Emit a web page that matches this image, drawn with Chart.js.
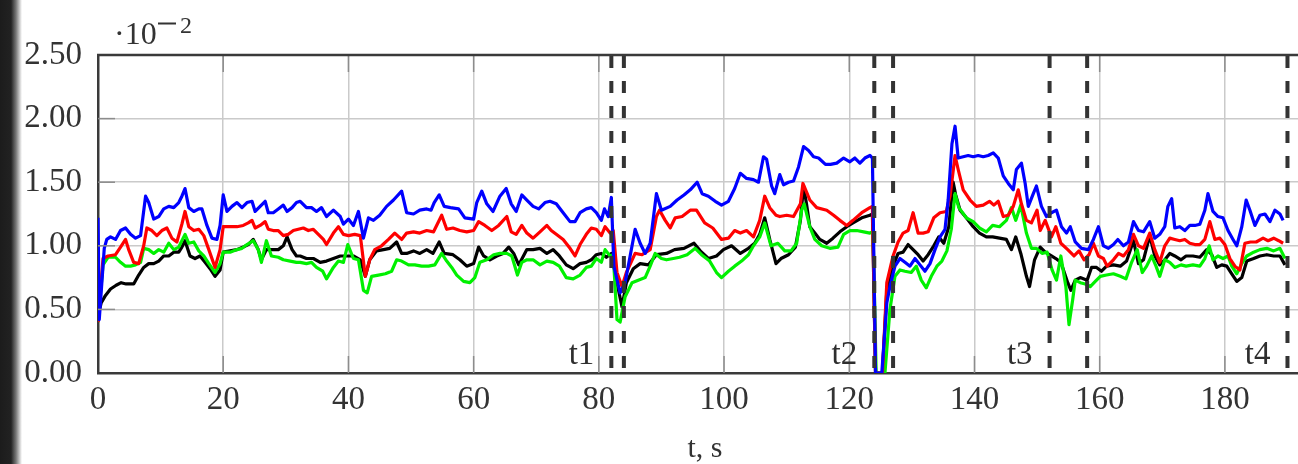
<!DOCTYPE html>
<html>
<head>
<meta charset="utf-8">
<script src="https://cdn.jsdelivr.net/npm/chart.js@4/dist/chart.umd.min.js"></script>
<style>
  html, body { margin: 0; padding: 0; background: #ffffff; overflow: hidden; }
  #wrap { position: absolute; left: 0; top: 0; width: 1310px; height: 464px; }
  #edge {
    position: absolute; left: 0; top: 0; width: 22px; height: 464px; z-index: 2;
    background: linear-gradient(to right, #1c1c1c 0px, #222 11px, #777 16px, #fff 22px);
  }
</style>
</head>
<body>
<div id="edge"></div>
<div id="wrap"><canvas id="c" width="1310" height="464"></canvas></div>
<script>
// Time (s) and signal (×10^-2) samples for each channel
const blueSeries = [[0,1.22],[0.2,0.42],[1.0,0.98],[1.4,1.05],[2.0,1.07],[2.8,1.05],[3.6,1.12],[4.4,1.14],[5.2,1.09],[6.0,1.06],[6.8,1.08],[7.6,1.39],[8.1,1.34],[8.9,1.21],[9.7,1.23],[10.5,1.29],[11.3,1.31],[12.1,1.30],[12.9,1.34],[13.4,1.39],[13.9,1.45],[14.5,1.30],[15.3,1.27],[16.1,1.29],[16.6,1.29],[17.4,1.16],[18.2,1.06],[19.0,1.05],[19.5,1.16],[20.0,1.40],[20.6,1.27],[21.4,1.31],[22.2,1.34],[23.0,1.30],[23.8,1.34],[24.6,1.35],[25.1,1.27],[25.9,1.31],[26.7,1.35],[27.2,1.26],[28.0,1.26],[28.8,1.29],[29.6,1.32],[30.2,1.27],[31.0,1.30],[31.7,1.34],[32.3,1.35],[33.3,1.30],[34.1,1.30],[34.9,1.27],[35.7,1.30],[36.5,1.23],[37.6,1.28],[38.7,1.23],[39.2,1.17],[40.0,1.21],[40.8,1.16],[41.6,1.27],[42.4,1.06],[43.2,1.22],[44.0,1.20],[45.0,1.24],[46.1,1.31],[47.2,1.36],[48.5,1.43],[49.3,1.26],[50.4,1.25],[51.4,1.28],[52.5,1.29],[53.2,1.28],[53.7,1.34],[54.5,1.40],[55.3,1.31],[56.3,1.30],[57.6,1.29],[58.6,1.22],[60.0,1.21],[60.5,1.34],[61.3,1.43],[62.1,1.33],[63.1,1.27],[64.2,1.39],[65.2,1.45],[66.0,1.33],[66.8,1.27],[67.7,1.40],[68.5,1.36],[69.5,1.31],[70.4,1.29],[71.4,1.34],[72.2,1.35],[73.2,1.33],[74.3,1.26],[75.4,1.19],[76.2,1.19],[77.0,1.26],[78.0,1.29],[78.8,1.30],[79.6,1.26],[80.4,1.20],[80.9,1.29],[81.5,1.23],[82.0,1.38],[82.4,0.84],[83.4,0.63],[84.2,0.71],[85.0,0.92],[85.8,1.13],[86.6,1.02],[87.4,0.94],[88.2,1.02],[89.2,1.41],[90.0,1.28],[91.4,1.31],[92.5,1.36],[93.6,1.40],[94.6,1.44],[95.7,1.50],[96.5,1.41],[97.5,1.39],[98.6,1.35],[99.6,1.32],[100.7,1.35],[101.7,1.45],[102.6,1.57],[103.6,1.53],[104.7,1.52],[105.5,1.50],[106.3,1.70],[106.8,1.68],[107.6,1.47],[108.1,1.41],[108.9,1.56],[109.5,1.48],[110.3,1.50],[111.1,1.51],[111.9,1.62],[112.7,1.78],[113.5,1.75],[114.3,1.70],[115.1,1.69],[116.2,1.64],[117.0,1.64],[118.0,1.65],[119.1,1.69],[120.1,1.66],[120.9,1.69],[121.7,1.65],[122.5,1.69],[123.3,1.71],[123.7,1.69],[124.2,0.0],[125.2,0.0],[126.0,0.55],[126.5,0.68],[127.3,0.84],[128.1,0.90],[128.9,0.87],[129.7,0.84],[130.5,0.90],[131.3,0.85],[132.1,0.80],[132.9,0.86],[133.7,0.97],[134.5,1.07],[135.3,1.13],[135.8,1.36],[136.4,1.80],[136.9,1.94],[137.4,1.69],[138.2,1.70],[139.0,1.71],[139.8,1.70],[140.6,1.71],[141.4,1.70],[142.2,1.71],[143.0,1.73],[143.8,1.69],[144.6,1.55],[145.4,1.49],[146.2,1.44],[146.7,1.60],[147.5,1.65],[148.1,1.49],[148.6,1.31],[149.4,1.41],[149.9,1.47],[150.7,1.31],[151.5,1.23],[152.3,1.26],[153.1,1.28],[153.9,1.15],[154.7,1.10],[155.3,1.15],[156.1,1.03],[157.1,0.98],[158.2,0.97],[159.0,1.05],[159.8,1.15],[160.6,1.00],[161.4,0.98],[162.2,1.01],[162.9,1.05],[163.8,1.00],[164.6,1.03],[165.4,1.19],[166.2,1.12],[167.0,1.11],[168.0,1.19],[168.8,1.06],[169.6,1.09],[170.4,1.15],[170.9,1.31],[171.5,1.37],[172.0,1.14],[172.8,1.15],[173.6,1.12],[174.4,1.16],[175.2,1.16],[176.0,1.17],[176.8,1.28],[177.3,1.41],[178.1,1.27],[178.9,1.23],[179.7,1.22],[180.5,1.12],[181.3,1.05],[181.9,1.00],[182.7,1.15],[183.4,1.36],[184.0,1.28],[184.8,1.16],[185.6,1.24],[186.4,1.25],[187.2,1.19],[188.0,1.28],[188.8,1.25],[189.3,1.20]];

const redSeries = [[0,0.40],[0.8,0.90],[1.6,0.92],[2.8,0.93],[3.6,0.99],[4.4,1.05],[4.9,0.97],[5.7,0.87],[6.5,0.86],[7.3,1.00],[7.8,1.14],[8.6,1.12],[9.4,1.08],[10.2,1.12],[11.0,1.14],[11.8,1.06],[12.6,1.03],[13.4,1.17],[13.9,1.27],[14.5,1.15],[15.3,1.12],[16.1,1.13],[16.9,1.08],[17.7,0.97],[18.7,0.83],[19.5,0.97],[20.0,1.15],[21.1,1.15],[22.2,1.15],[23.2,1.16],[24.0,1.18],[24.6,1.20],[25.1,1.14],[25.9,1.16],[26.7,1.19],[27.2,1.13],[28.0,1.12],[28.8,1.12],[29.6,1.08],[30.4,1.09],[31.2,1.12],[32.0,1.13],[32.8,1.14],[33.6,1.12],[34.4,1.13],[35.2,1.09],[36.0,1.05],[36.5,1.01],[37.6,1.10],[38.4,1.15],[39.2,1.09],[40.0,1.08],[41.0,1.09],[41.9,1.08],[42.7,0.76],[43.4,0.89],[44.2,0.97],[45.3,1.00],[46.4,1.05],[47.4,1.10],[48.5,1.05],[49.3,1.10],[50.4,1.11],[51.4,1.10],[52.5,1.12],[53.6,1.11],[54.9,1.24],[55.7,1.13],[56.7,1.14],[57.8,1.12],[58.9,1.11],[60.0,1.12],[60.8,1.19],[61.8,1.16],[62.9,1.12],[64.0,1.16],[65.3,1.23],[66.0,1.11],[66.8,1.09],[67.7,1.16],[68.5,1.10],[69.5,1.06],[70.6,1.11],[71.7,1.16],[72.4,1.12],[73.2,1.09],[74.3,1.05],[75.4,0.98],[76.2,0.92],[77.0,1.01],[78.0,1.09],[78.8,1.14],[79.6,1.13],[80.4,1.08],[81.0,1.15],[81.8,1.10],[82.3,1.12],[82.9,0.79],[83.7,0.68],[84.4,0.79],[85.8,0.94],[86.9,0.93],[88.2,0.97],[89.2,1.23],[89.7,1.28],[90.6,1.20],[91.4,1.14],[92.2,1.22],[93.3,1.23],[94.6,1.28],[95.6,1.28],[96.9,1.18],[98.2,1.14],[99.6,1.05],[100.7,1.06],[101.7,1.12],[102.6,1.10],[103.6,1.12],[104.7,1.07],[105.7,1.20],[106.5,1.39],[107.3,1.30],[108.3,1.24],[108.9,1.23],[110.0,1.24],[111.1,1.23],[112.2,1.33],[112.6,1.49],[113.2,1.42],[113.7,1.36],[114.8,1.30],[116.4,1.28],[117.5,1.24],[118.5,1.20],[119.6,1.16],[120.6,1.20],[122.0,1.26],[123.3,1.30],[123.7,1.31],[124.2,0],[125.3,0],[126.0,0.71],[127.0,0.92],[127.8,1.03],[128.6,1.10],[129.4,1.12],[130.2,1.26],[131.0,1.10],[131.8,1.10],[132.6,1.11],[133.5,1.22],[134.5,1.26],[135.5,1.27],[136.1,1.39],[136.9,1.71],[137.4,1.60],[138.2,1.44],[139.3,1.36],[140.3,1.31],[141.4,1.32],[142.4,1.35],[143.1,1.32],[143.8,1.35],[144.6,1.23],[145.4,1.24],[146.2,1.31],[147.0,1.44],[147.5,1.33],[148.3,1.20],[149.1,1.18],[150.0,1.28],[150.5,1.12],[151.3,1.20],[152.3,1.07],[153.0,1.15],[153.8,1.02],[154.9,0.97],[155.9,0.92],[156.7,0.96],[157.5,0.89],[158.3,0.93],[159.0,1.02],[159.8,0.92],[160.6,0.90],[161.2,0.84],[162.2,0.89],[163.0,0.94],[163.8,0.92],[164.6,0.97],[165.4,1.09],[166.2,1.00],[167.0,0.98],[168.0,1.10],[168.8,0.97],[169.6,0.87],[170.4,1.00],[171.2,1.06],[172.0,1.05],[172.8,1.04],[173.6,1.05],[174.4,1.02],[175.2,1.01],[176.0,1.01],[176.8,1.05],[177.6,1.19],[178.4,1.05],[179.2,1.06],[180.0,1.01],[180.8,0.90],[181.6,0.84],[182.4,0.81],[183.2,1.02],[184.1,1.03],[185.0,1.03],[186.1,1.06],[186.9,1.04],[187.8,1.06],[188.6,1.04],[189.3,1.02]];

const blackSeries = [[0,0.45],[0.5,0.55],[1.2,0.61],[2.0,0.66],[2.9,0.69],[3.7,0.71],[4.5,0.70],[5.7,0.70],[6.5,0.77],[7.3,0.83],[8.1,0.86],[8.9,0.86],[9.7,0.88],[10.5,0.92],[11.3,0.92],[12.1,0.95],[12.9,0.95],[13.4,0.99],[13.9,1.04],[14.7,0.92],[15.5,0.90],[16.3,0.92],[17.1,0.87],[17.9,0.82],[18.7,0.76],[19.5,0.81],[20.0,0.95],[21.1,0.96],[22.2,0.97],[23.2,0.99],[24.0,1.01],[24.8,1.05],[25.6,0.97],[26.1,0.89],[26.9,0.97],[27.7,0.97],[28.8,0.97],[29.6,1.00],[30.2,1.07],[31.0,0.97],[31.7,0.92],[32.3,0.92],[33.3,0.90],[34.4,0.90],[35.5,0.87],[36.5,0.88],[37.6,0.90],[38.7,0.92],[39.7,0.92],[40.8,0.92],[41.9,0.89],[42.7,0.76],[43.4,0.89],[44.5,0.96],[45.6,0.97],[46.6,0.98],[47.7,1.03],[48.5,0.94],[49.3,0.94],[50.4,0.96],[51.4,0.94],[52.5,0.97],[53.5,0.94],[54.5,1.03],[55.3,0.94],[56.7,0.93],[57.8,0.89],[58.9,0.84],[60.0,0.86],[60.8,0.99],[61.6,0.92],[62.6,0.89],[63.7,0.92],[64.7,0.94],[65.6,0.99],[66.4,0.94],[67.2,0.85],[68.5,0.97],[69.5,0.97],[70.6,0.98],[71.7,0.94],[72.7,0.97],[73.7,0.92],[74.8,0.85],[75.9,0.82],[77.0,0.86],[78.0,0.87],[78.8,0.89],[79.6,0.93],[80.4,0.94],[81.2,0.91],[82.0,0.94],[82.9,0.71],[83.7,0.52],[84.4,0.71],[85.5,0.82],[86.6,0.86],[87.9,0.85],[89.2,0.93],[90.8,0.94],[92.1,0.97],[93.6,0.98],[95.2,1.02],[96.2,0.96],[97.5,0.90],[98.8,0.92],[99.9,0.97],[101.2,1.00],[102.6,0.94],[103.9,0.98],[104.9,1.02],[105.7,1.09],[106.5,1.22],[107.3,1.05],[108.3,0.86],[109.1,0.90],[110.3,0.93],[111.4,0.99],[112.2,1.20],[112.7,1.47],[113.2,1.32],[113.7,1.15],[114.5,1.10],[115.3,1.05],[116.4,1.02],[117.4,1.06],[118.5,1.11],[119.6,1.15],[120.6,1.18],[122.0,1.22],[123.3,1.24],[123.7,1.25],[124.2,0],[125.3,0],[126.0,0.65],[127.0,0.84],[127.8,0.94],[128.6,0.95],[129.4,1.01],[130.2,0.97],[131.0,0.93],[131.8,0.88],[132.6,0.93],[133.5,1.00],[134.3,1.07],[135.1,1.02],[135.9,1.15],[136.6,1.50],[137.0,1.40],[137.7,1.28],[138.7,1.22],[139.8,1.15],[140.8,1.10],[141.9,1.07],[142.9,1.07],[144.0,1.06],[145.1,1.05],[145.9,0.97],[146.6,1.07],[147.4,0.94],[148.3,0.76],[148.8,0.68],[149.6,0.89],[150.5,0.99],[151.3,0.95],[152.3,0.92],[153.0,0.90],[153.8,0.87],[154.9,0.71],[155.4,0.65],[156.1,0.73],[156.9,0.75],[158.0,0.73],[158.7,0.83],[159.5,0.83],[160.3,0.80],[161.1,0.84],[162.2,0.85],[163.3,0.84],[164.3,0.88],[165.4,1.04],[166.2,0.86],[167.0,0.89],[168.0,1.08],[168.8,0.92],[169.6,0.85],[170.4,0.89],[171.2,0.94],[172.0,0.92],[173.0,0.89],[173.8,0.92],[174.9,0.92],[176.0,0.91],[177.1,0.97],[177.9,0.93],[178.7,0.83],[179.5,0.85],[180.3,0.84],[181.1,0.78],[181.9,0.72],[182.7,0.75],[183.5,0.88],[184.6,0.90],[185.6,0.92],[186.7,0.93],[187.8,0.92],[188.8,0.92],[189.6,0.85]];

const greenSeries = [[0,0.40],[0.8,0.85],[1.6,0.91],[2.8,0.91],[3.6,0.87],[4.4,0.84],[5.2,0.84],[6.0,0.85],[6.8,0.87],[7.3,0.98],[8.1,0.97],[8.9,0.94],[9.7,0.97],[10.5,0.95],[11.3,1.02],[12.1,0.97],[12.9,0.99],[13.9,1.09],[14.5,1.02],[15.3,1.03],[16.1,0.96],[16.9,0.92],[17.7,0.86],[18.7,0.79],[19.5,0.86],[20.0,0.95],[21.1,0.95],[22.2,0.97],[23.0,0.98],[23.8,1.01],[24.8,1.04],[25.6,0.97],[26.1,0.87],[26.9,1.04],[27.7,0.92],[28.8,0.91],[29.6,0.89],[30.7,0.88],[31.7,0.87],[32.3,0.87],[33.3,0.86],[34.1,0.87],[34.9,0.83],[35.9,0.80],[36.5,0.74],[37.6,0.83],[38.4,0.88],[39.2,0.87],[39.9,1.01],[40.8,0.90],[41.6,0.89],[42.4,0.65],[43.0,0.63],[43.7,0.76],[44.8,0.77],[45.9,0.78],[46.9,0.80],[47.7,0.89],[48.5,0.88],[49.6,0.85],[50.6,0.85],[51.7,0.84],[52.8,0.84],[53.8,0.85],[54.9,0.94],[55.7,0.88],[56.5,0.83],[57.3,0.77],[58.4,0.72],[59.4,0.71],[60.2,0.75],[61.0,0.87],[62.1,0.89],[63.2,0.93],[64.2,0.94],[65.3,0.94],[66.1,0.92],[67.0,0.77],[67.7,0.87],[68.5,0.89],[69.5,0.89],[70.6,0.85],[71.7,0.88],[72.7,0.87],[73.7,0.84],[74.8,0.75],[75.9,0.74],[77.0,0.77],[78.0,0.83],[78.8,0.84],[79.6,0.90],[80.4,0.87],[81.0,0.97],[81.8,0.92],[82.3,0.93],[82.9,0.42],[83.4,0.40],[84.2,0.60],[85.3,0.71],[86.3,0.73],[87.4,0.75],[88.2,0.84],[89.0,0.94],[90.0,0.90],[90.8,0.89],[91.9,0.90],[92.9,0.91],[94.1,0.93],[95.4,0.98],[96.4,0.93],[97.7,0.88],[98.8,0.79],[99.6,0.75],[100.7,0.80],[101.7,0.84],[102.8,0.88],[103.9,0.93],[104.7,1.00],[105.7,1.07],[106.5,1.18],[107.5,1.00],[108.6,1.02],[109.7,0.96],[110.7,0.96],[111.6,1.02],[112.4,1.28],[112.8,1.33],[113.7,1.15],[114.5,1.05],[115.6,1.00],[116.9,0.98],[118.2,0.99],[119.1,1.09],[120.1,1.12],[121.2,1.12],[122.3,1.11],[123.3,1.10],[123.8,1.11],[124.3,0],[125.7,0],[126.5,0.50],[127.3,0.76],[128.1,0.81],[128.9,0.80],[129.9,0.79],[130.7,0.84],[131.5,0.73],[132.3,0.67],[133.1,0.76],[134.0,0.84],[134.8,0.88],[135.6,0.96],[136.3,1.13],[136.9,1.41],[137.5,1.30],[138.7,1.22],[139.8,1.19],[140.8,1.14],[141.9,1.11],[142.9,1.16],[144.0,1.15],[145.1,1.20],[145.9,1.30],[146.6,1.20],[147.4,1.32],[148.3,1.10],[149.1,0.98],[149.9,0.98],[150.8,0.94],[151.6,0.95],[152.4,0.81],[153.1,0.73],[153.8,0.92],[154.6,0.68],[155.1,0.38],[155.7,0.58],[156.1,0.73],[156.9,0.71],[157.7,0.70],[158.5,0.68],[159.3,0.72],[160.1,0.76],[161.1,0.77],[162.2,0.78],[163.3,0.76],[164.2,0.74],[165.1,0.87],[166.0,0.97],[166.8,0.79],[167.5,0.84],[168.3,0.92],[169.0,0.84],[169.6,0.76],[170.4,0.89],[171.2,0.87],[172.0,0.83],[173.0,0.85],[173.8,0.84],[174.9,0.85],[176.0,0.84],[176.8,0.90],[177.5,1.00],[178.1,0.89],[178.9,0.92],[179.7,0.90],[180.5,0.92],[181.1,0.84],[181.9,0.78],[182.7,0.86],[183.5,0.92],[184.6,0.95],[185.6,0.97],[186.7,0.98],[187.8,0.96],[188.8,0.98],[189.6,0.90]];

// Event markers (dashed verticals) and their labels
const markerTimes = [82, 84, 124, 127, 152, 158, 190];
const eventLabels = ['t1', 't2', 't3', 't4'];
const eventLabelTimes = [82, 124, 152, 190];

// Axis ticks and titles
const xTickValues = [0, 20, 40, 60, 80, 100, 120, 140, 160, 180];
const yTickLabels = ['0.00', '0.50', '1.00', '1.50', '2.00', '2.50'];
const xAxisTitle = 't, s';

const SERIF = '"Liberation Serif", "Times New Roman", serif';
const toPoints = s => s.map(p => ({ x: p[0], y: p[1] }));

const overlay = {
  id: 'overlay',
  afterDatasetsDraw(chart) {
    const { ctx, chartArea: a, scales: { x, y } } = chart;
    ctx.save();
    // short inner tick marks on the frame
    ctx.strokeStyle = '#8c8c8c';
    ctx.lineWidth = 1.5;
    xTickValues.slice(1).forEach(t => {
      const px = x.getPixelForValue(t);
      ctx.beginPath();
      ctx.moveTo(px, a.bottom); ctx.lineTo(px, a.bottom - 17);
      ctx.moveTo(px, a.top); ctx.lineTo(px, a.top + 17);
      ctx.stroke();
    });
    for (let i = 1; i < yTickLabels.length - 1; i++) {
      const py = y.getPixelForValue(parseFloat(yTickLabels[i]));
      ctx.beginPath();
      ctx.moveTo(a.left, py); ctx.lineTo(a.left + 17, py);
      ctx.stroke();
    }
    // dashed event markers
    ctx.strokeStyle = '#333333';
    ctx.lineWidth = 4;
    ctx.setLineDash([12, 13]);
    markerTimes.forEach(t => {
      const px = x.getPixelForValue(t);
      ctx.beginPath();
      ctx.moveTo(px, a.top + 1);
      ctx.lineTo(px, a.bottom);
      ctx.stroke();
    });
    ctx.setLineDash([]);
    // event labels
    ctx.fillStyle = '#2e2e2e';
    ctx.font = '33px ' + SERIF;
    ctx.textAlign = 'right';
    ctx.textBaseline = 'alphabetic';
    eventLabels.forEach((lbl, i) => {
      ctx.fillText(lbl, x.getPixelForValue(eventLabelTimes[i]) - 17, a.bottom - 9);
    });
    // top frame line
    ctx.strokeStyle = '#3a3a3a';
    ctx.lineWidth = 2.5;
    ctx.beginPath();
    ctx.moveTo(a.left - 1, a.top);
    ctx.lineTo(chart.width, a.top);
    ctx.stroke();
    // x-axis title
    ctx.fillStyle = '#333333';
    ctx.textAlign = 'center';
    ctx.font = '30px ' + SERIF;
    ctx.fillText(xAxisTitle, 705, 457);
    // scale factor of the y axis: ·10^−2
    ctx.textAlign = 'left';
    ctx.font = '32px ' + SERIF;
    ctx.fillText('\u00B710', 114, 44);
    ctx.fillRect(158, 22.5, 18, 2);
    ctx.font = '24px ' + SERIF;
    ctx.fillText('2', 180, 33);
    ctx.restore();
  }
};

new Chart(document.getElementById('c'), {
  type: 'line',
  data: {
    datasets: [
      { label: 'blue', data: toPoints(blueSeries), borderColor: '#0000ff', order: 0 },
      { label: 'red', data: toPoints(redSeries), borderColor: '#ff0000', order: 1 },
      { label: 'green', data: toPoints(greenSeries), borderColor: '#00f000', order: 2 },
      { label: 'black', data: toPoints(blackSeries), borderColor: '#000000', order: 3 }
    ]
  },
  options: {
    responsive: false,
    animation: false,
    devicePixelRatio: 1,
    layout: { padding: { top: 55, right: 10, left: 0, bottom: 0 } },
    elements: {
      line: { borderWidth: 3.2, tension: 0, fill: false, borderJoinStyle: 'round' },
      point: { radius: 0, hoverRadius: 0 }
    },
    plugins: { legend: { display: false }, tooltip: { enabled: false } },
    scales: {
      x: {
        type: 'linear', min: 0, max: 192,
        afterFit(s) { s.height = 91; },
        afterBuildTicks(s) { s.ticks = xTickValues.map(v => ({ value: v })); },
        ticks: { autoSkip: false, maxRotation: 0, padding: 8,
                 color: '#333333', font: { family: SERIF, size: 33 } },
        grid: { color: '#cacaca', lineWidth: 1.5, drawTicks: false },
        border: { color: '#3a3a3a', width: 2.5 }
      },
      y: {
        min: 0, max: 2.5,
        afterFit(s) { s.width = 98; },
        ticks: { stepSize: 0.5, padding: 16, color: '#333333', font: { family: SERIF, size: 33 },
                 callback: (v) => yTickLabels[Math.round(v / 0.5)] },
        grid: { color: '#cacaca', lineWidth: 1.5, drawTicks: false },
        border: { color: '#3a3a3a', width: 2.5 }
      }
    }
  },
  plugins: [overlay]
});
</script>
</body>
</html>
